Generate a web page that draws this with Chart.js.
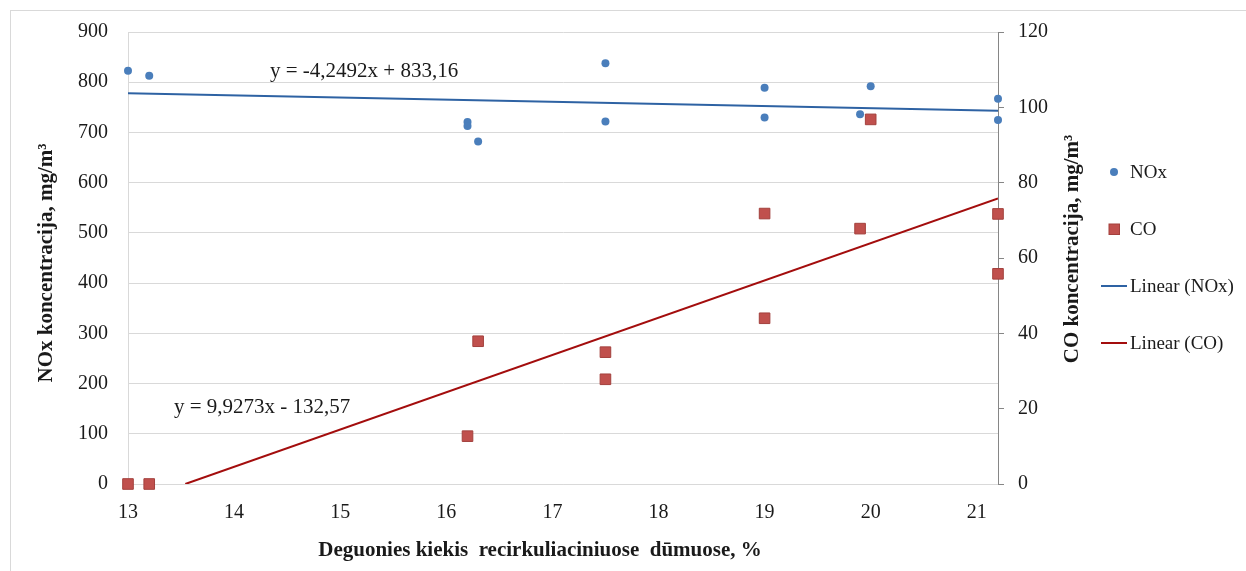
<!DOCTYPE html>
<html>
<head>
<meta charset="utf-8">
<script src="https://cdn.jsdelivr.net/npm/chart.js@4/dist/chart.umd.min.js"></script>
<style>
  html, body { margin: 0; padding: 0; background: #fff; }
  #wrap { position: relative; width: 1246px; height: 571px; }
</style>
</head>
<body>
<div id="wrap"><canvas id="c"></canvas></div>
<script>
// ---- data ----
const noxOxygen = [13, 13.2, 16.2, 16.2, 16.3, 17.5, 17.5, 19, 19, 19.9, 20, 21.2, 21.2];
const noxValues = [823, 813, 721, 713, 682, 838, 722, 789, 730, 736, 792, 767, 725];
const coOxygen  = [13, 13.2, 16.2, 16.3, 17.5, 17.5, 19, 19, 19.9, 20, 21.2, 21.2];
const coValues  = [0, 0, 12.7, 37.9, 35, 27.8, 71.8, 44, 67.8, 96.8, 71.7, 55.8];
// trendlines (endpoints as read / from displayed equations)
const noxTrendX = [13, 21.2];
const noxTrendY = [777.9, 743.1];   // y = -4,2492x + 833,16
const coTrendX  = [13.54, 21.2];
const coTrendY  = [0, 75.8];        // y = 9,9273x - 132,57
const xTicks    = [13, 14, 15, 16, 17, 18, 19, 20, 21];
const noxTicks  = [0, 100, 200, 300, 400, 500, 600, 700, 800, 900];
const coTicks   = [0, 20, 40, 60, 80, 100, 120];
const labels = {
  xTitle: 'Deguonies kiekis  recirkuliaciniuose  dūmuose, %',
  yTitle: 'NOx koncentracija, mg/m³',
  y1Title: 'CO koncentracija, mg/m³',
  noxEq: 'y = -4,2492x + 833,16',
  coEq: 'y = 9,9273x - 132,57',
  legend: ['NOx', 'CO', 'Linear (NOx)', 'Linear (CO)']
};

const pts = (xs, ys) => xs.map((x, i) => ({x, y: ys[i]}));
const FONT = "'Liberation Serif', 'Times New Roman', serif";
const TXT = '#1a1a1a';
const GRID = '#d9d9d9';
const NOX_C = '#4a7ebb', CO_C = '#c0504d', NOX_T = '#2e62a3', CO_T = '#a30d0d';

const textPlugin = {
  id: 'texts',
  beforeDraw(chart) {
    const ctx = chart.ctx;
    ctx.save();
    ctx.fillStyle = '#fff';
    ctx.fillRect(0, 0, chart.width, chart.height);
    ctx.strokeStyle = GRID;
    ctx.lineWidth = 1;
    ctx.strokeRect(10.5, 10.5, chart.width + 20, chart.height + 20);
    ctx.restore();
  },
  afterDraw(chart) {
    const ctx = chart.ctx;
    ctx.save();
    ctx.fillStyle = TXT;
    // axis titles
    ctx.textAlign = 'center';
    ctx.textBaseline = 'middle';
    ctx.font = `bold 21px ${FONT}`;
    ctx.fillText(labels.xTitle, 540, 551);
    ctx.save(); ctx.translate(47, 263); ctx.rotate(-Math.PI / 2);
    ctx.fillText(labels.yTitle, 0, 0); ctx.restore();
    ctx.save(); ctx.translate(1073, 249); ctx.rotate(-Math.PI / 2);
    ctx.fillText(labels.y1Title, 0, 0); ctx.restore();
    // equations
    ctx.font = `21px ${FONT}`;
    ctx.textAlign = 'left';
    ctx.fillText(labels.noxEq, 270, 71);
    ctx.fillText(labels.coEq, 174, 407);
    // legend
    ctx.font = `19px ${FONT}`;
    const lx = 1130;
    const ly = [172, 229, 286, 343];
    ctx.fillStyle = NOX_C;
    ctx.beginPath(); ctx.arc(1114, ly[0], 4, 0, Math.PI * 2); ctx.fill();
    ctx.fillStyle = CO_C; ctx.strokeStyle = '#a3403d'; ctx.lineWidth = 1;
    ctx.fillRect(1109, ly[1] - 5, 10.5, 10.5);
    ctx.strokeRect(1109, ly[1] - 5, 10.5, 10.5);
    ctx.lineWidth = 2;
    ctx.strokeStyle = NOX_T;
    ctx.beginPath(); ctx.moveTo(1101, ly[2]); ctx.lineTo(1127, ly[2]); ctx.stroke();
    ctx.strokeStyle = CO_T;
    ctx.beginPath(); ctx.moveTo(1101, ly[3]); ctx.lineTo(1127, ly[3]); ctx.stroke();
    ctx.fillStyle = TXT;
    labels.legend.forEach((t, i) => ctx.fillText(t, lx, ly[i] + 1));
    ctx.restore();
  }
};

new Chart(document.getElementById('c'), {
  type: 'scatter',
  data: {
    datasets: [
      { label: labels.legend[2], data: pts(noxTrendX, noxTrendY), yAxisID: 'y', showLine: true,
        borderColor: NOX_T, borderWidth: 2, pointRadius: 0, fill: false, order: 3 },
      { label: labels.legend[3], data: pts(coTrendX, coTrendY), yAxisID: 'y1', showLine: true,
        borderColor: CO_T, borderWidth: 2, pointRadius: 0, fill: false, order: 4 },
      { label: labels.legend[0], data: pts(noxOxygen, noxValues), yAxisID: 'y', clip: false,
        pointStyle: 'circle', pointRadius: 4, backgroundColor: NOX_C, borderColor: NOX_C, borderWidth: 0, order: 1 },
      { label: labels.legend[1], data: pts(coOxygen, coValues), yAxisID: 'y1', clip: false,
        pointStyle: 'rect', pointRadius: 7.5, backgroundColor: CO_C, borderColor: '#a3403d', borderWidth: 1, order: 2 }
    ]
  },
  options: {
    responsive: true,
    maintainAspectRatio: false,
    animation: false,
    events: [],
    layout: { padding: { left: 0, right: 0, top: 31, bottom: 0 } },
    plugins: { legend: { display: false }, tooltip: { enabled: false }, title: { display: false } },
    scales: {
      x: {
        type: 'linear', position: 'bottom', min: 13, max: 21.2,
        afterFit(s) { s.height = 87; },
        afterBuildTicks(s) { s.ticks = xTicks.map(v => ({value: v})); },
        grid: { display: false },
        border: { display: true, color: GRID, width: 1 },
        ticks: { font: { family: FONT, size: 20 }, color: TXT, padding: 9, maxRotation: 0 }
      },
      y: {
        type: 'linear', position: 'left', min: 0, max: 900,
        afterFit(s) { s.width = 128; },
        afterBuildTicks(s) { s.ticks = noxTicks.map(v => ({value: v})); },
        grid: { color: GRID, drawTicks: false, lineWidth: 1 },
        border: { display: true, color: GRID, width: 1 },
        ticks: { font: { family: FONT, size: 20 }, color: TXT, padding: 20 }
      },
      y1: {
        type: 'linear', position: 'right', min: 0, max: 120,
        afterFit(s) { s.width = 248; },
        afterBuildTicks(s) { s.ticks = coTicks.map(v => ({value: v})); },
        grid: { drawOnChartArea: false, drawTicks: true, tickLength: 6, tickColor: '#868686' },
        border: { display: true, color: '#868686', width: 1 },
        ticks: { font: { family: FONT, size: 20 }, color: TXT, padding: 14 }
      }
    }
  },
  plugins: [textPlugin]
});
</script>
</body>
</html>
